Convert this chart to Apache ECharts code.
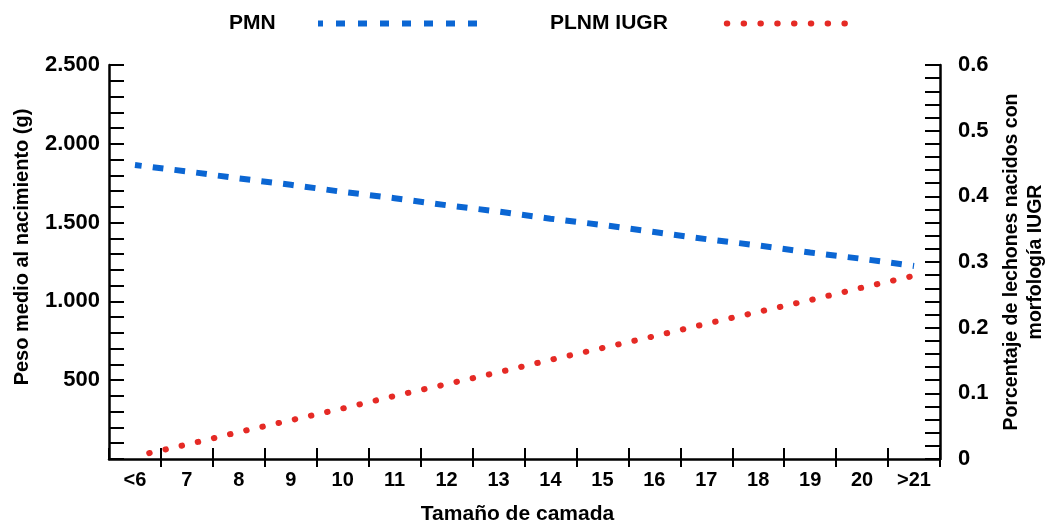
<!DOCTYPE html>
<html>
<head>
<meta charset="utf-8">
<script src="https://cdn.jsdelivr.net/npm/echarts@6/dist/echarts.min.js"></script>
<style>
html,body{margin:0;padding:0;background:#fff;}
#chart{width:1045px;height:525px;}
</style>
</head>
<body>
<div id="chart"></div>
<script>
const categories = ['<6','7','8','9','10','11','12','13','14','15','16','17','18','19','20','>21'];
const pmnValues = [1865, 1825, 1780, 1740, 1695, 1655, 1610, 1570, 1525, 1485, 1440, 1395, 1355, 1310, 1270, 1225];
const plnmValues = [0.004, 0.022, 0.041, 0.059, 0.077, 0.096, 0.114, 0.132, 0.151, 0.169, 0.187, 0.206, 0.224, 0.242, 0.261, 0.279];
const seriesNames = ['PMN', 'PLNM IUGR'];

const FONT = '"Liberation Sans", Arial, sans-serif';
const BLUE = '#0b66d3';
const RED = '#e52a25';

function thousands(v) {
  return String(v).replace(/\B(?=(\d{3})+(?!\d))/g, '.');
}

const chart = echarts.init(document.getElementById('chart'), null, {renderer: 'canvas'});
chart.setOption({
  animation: false,
  backgroundColor: '#ffffff',
  grid: {left: 109, right: 105, top: 65, bottom: 66, containLabel: false, outerBoundsMode: 'none'},
  legend: [
    {
      data: [seriesNames[0]], left: 224, top: 8, align: 'right',
      itemWidth: 160, itemHeight: 24,
      formatter: n => '{t|' + n + '}',
      textStyle: {rich: {t: {width: 84, align: 'left', fontFamily: FONT, fontWeight: 'bold', fontSize: 21, color: '#000'}}},
      lineStyle: {color: BLUE, width: 6, type: [9, 13]},
      itemStyle: {opacity: 0}
    },
    {
      data: [seriesNames[1]], left: 545, top: 8, align: 'right',
      itemWidth: 138, itemHeight: 24,
      formatter: n => '{t|' + n + '}',
      textStyle: {rich: {t: {width: 157, align: 'left', fontFamily: FONT, fontWeight: 'bold', fontSize: 21, color: '#000'}}},
      lineStyle: {color: RED, width: 6, type: [0.5, 16.3], cap: 'round'},
      itemStyle: {opacity: 0}
    }
  ],
  xAxis: [
    {
      type: 'category', data: categories, position: 'bottom', boundaryGap: true,
      name: 'Tamaño de camada', nameLocation: 'middle', nameGap: 45,
      nameTextStyle: {fontFamily: FONT, fontWeight: 'bold', fontSize: 21, color: '#000', padding: [0, 14, 0, 0]},
      axisLine: {lineStyle: {color: '#000', width: 2.5}},
      axisTick: {show: true, inside: false, length: 8, lineStyle: {color: '#000', width: 2},
                 interval: (i) => i !== 0},
      axisLabel: {margin: 11, fontFamily: FONT, fontWeight: 'bold', fontSize: 20, color: '#000', interval: 0},
      splitLine: {show: false}
    },
    {
      type: 'category', data: categories, position: 'bottom', boundaryGap: true,
      axisLine: {show: false},
      axisTick: {show: true, inside: true, length: 11, lineStyle: {color: '#000', width: 2}},
      axisLabel: {show: false},
      splitLine: {show: false}
    }
  ],
  yAxis: [
    {
      type: 'value', position: 'left', min: 0, max: 2500, interval: 500,
      name: 'Peso medio al nacimiento (g)', nameLocation: 'middle', nameGap: 77, nameRotate: 90,
      nameTextStyle: {fontFamily: FONT, fontWeight: 'bold', fontSize: 20, color: '#000', padding: [0, 0, 0, 30]},
      axisLine: {show: true, lineStyle: {color: '#000', width: 2.5}},
      axisTick: {show: true, inside: true, length: 15, lineStyle: {color: '#000', width: 2}},
      minorTick: {show: true, splitNumber: 5, length: 15, lineStyle: {color: '#000', width: 2}},
      axisLabel: {margin: 9, fontFamily: FONT, fontWeight: 'bold', fontSize: 22, color: '#000',
                  formatter: v => v === 0 ? '' : thousands(v)},
      splitLine: {show: false}
    },
    {
      type: 'value', position: 'right', min: 0, max: 0.6, interval: 0.1,
      name: 'Porcentaje de lechones nacidos con\nmorfología IUGR', nameLocation: 'middle', nameGap: 60, nameRotate: 90,
      nameTextStyle: {fontFamily: FONT, fontWeight: 'bold', fontSize: 19.5, lineHeight: 24, color: '#000', align: 'center'},
      axisLine: {show: true, lineStyle: {color: '#000', width: 2.5}},
      axisTick: {show: true, inside: true, length: 15, lineStyle: {color: '#000', width: 2}},
      minorTick: {show: true, splitNumber: 5, length: 15, lineStyle: {color: '#000', width: 2}},
      axisLabel: {margin: 18, fontFamily: FONT, fontWeight: 'bold', fontSize: 22, color: '#000',
                  formatter: v => String(Math.round(v * 10) / 10)},
      splitLine: {show: false}
    }
  ],
  series: [
    {
      name: seriesNames[0], type: 'line', xAxisIndex: 0, yAxisIndex: 0, data: pmnValues,
      symbol: 'none', smooth: false,
      lineStyle: {color: BLUE, width: 6, type: [10.7, 11.2], dashOffset: 4},
      itemStyle: {color: BLUE}
    },
    {
      name: seriesNames[1], type: 'line', xAxisIndex: 0, yAxisIndex: 1, data: plnmValues,
      symbol: 'none', smooth: false,
      lineStyle: {color: RED, width: 6, type: [0.5, 16.1], cap: 'round', dashOffset: 2},
      itemStyle: {color: RED}
    }
  ]
});
</script>
</body>
</html>
